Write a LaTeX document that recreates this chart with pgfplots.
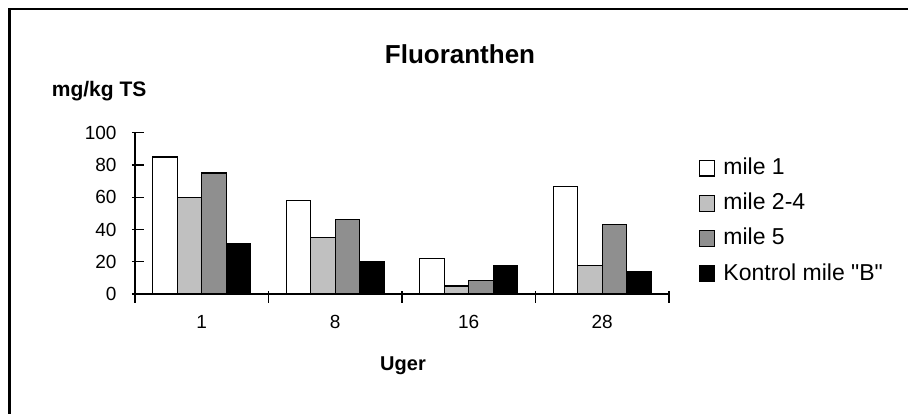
\documentclass[border=0pt]{standalone}
\usepackage{pgfplots}
\pgfplotsset{compat=1.18}
\usepackage{fontspec}
\setmainfont{Liberation Sans}[Ligatures=TeXOff]
\definecolor{gA}{RGB}{192,192,192}
\definecolor{gB}{RGB}{143,143,143}
\pgfplotstableread{
x a b c d
1 85 60 75 31
2 58 35 46 20
3 22 5 8.5 17.5
4 66.5 17.5 43 14
}\data
\begin{document}
\begin{tikzpicture}[x=1pt,y=1pt]
\useasboundingbox (0,0) rectangle (908,414);
\draw[line width=2.2pt] (9.5,0) -- (9.5,405) -- (908,405);
\node[font=\fontsize{26}{30}\selectfont\bfseries, anchor=base] at (460,350.7) {Fluoranthen};
\node[font=\fontsize{21}{24}\selectfont\bfseries, anchor=base west, inner sep=0pt] at (51.7,317.3) {mg/kg TS};
\node[font=\fontsize{20}{24}\selectfont\bfseries, anchor=base, inner sep=0pt] at (403,43) {Uger};
\begin{axis}[
  at={(135pt,120pt)}, anchor=south west,
  scale only axis, width=534pt, height=161.3pt,
  xmin=0.5, xmax=4.5, ymin=0, ymax=100,
  axis x line=bottom, axis y line=left,
  axis line style={-, line width=1.3pt},
  every tick/.style={black, line width=1.3pt},
  major tick length=12pt, minor tick length=12pt,
  xtick={1,2,3,4}, xticklabels={1,8,16,28},
  major x tick style={draw=none},
  minor x tick style={yshift=3pt},
  major y tick style={xshift=3pt},
  minor xtick={0.5,1.5,2.5,3.5,4.5},
  ytick={0,20,40,60,80,100},
  xticklabel style={font=\fontsize{19}{22}\selectfont, anchor=base, yshift=-23pt},
  yticklabel style={font=\fontsize{19}{22}\selectfont, anchor=east, xshift=-9pt},
  /pgf/number format/assume math mode=true,
  ybar=0pt, bar width=24.5pt,
  clip=false,
  legend style={at={(axis cs:4.725,84.8)}, anchor=north west, draw=none, fill=none, inner sep=0pt,
    font=\fontsize{23}{26}\selectfont,
    nodes={inner sep=0pt, text height=17pt, text depth=5pt, anchor=base west},
    row sep=13.2pt,
    /tikz/every odd column/.append style={column sep=8pt}},
  legend cell align=left,
  legend image code/.code={\draw[#1, line width=1.2pt] (0pt,-1.5pt) rectangle (15pt,14pt);},
]
\addplot[draw=black, line width=1.3pt, fill=white] table[x=x,y=a]{\data};
\addplot[draw=black, line width=1.3pt, fill=gA] table[x=x,y=b]{\data};
\addplot[draw=black, line width=1.3pt, fill=gB] table[x=x,y=c]{\data};
\addplot[draw=black, line width=1.3pt, fill=black] table[x=x,y=d]{\data};
\legend{mile 1, mile 2-4, mile 5, Kontrol mile "B"}
\end{axis}
\end{tikzpicture}
\end{document}
